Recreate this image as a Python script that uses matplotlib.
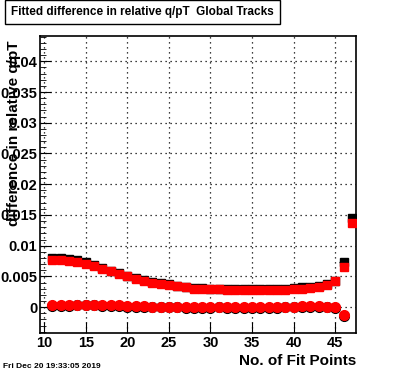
import numpy as np
import matplotlib
matplotlib.use("Agg")
import matplotlib.pyplot as plt
from matplotlib.ticker import MultipleLocator

# fit points
npts = list(range(11, 48))

# relative q/pT difference, squares (red on top of black)
sq_red = [0.0077, 0.0077, 0.0075, 0.0073, 0.0070, 0.0067, 0.0062, 0.0058, 0.0054,
          0.0050, 0.0046, 0.0043, 0.0040, 0.0038, 0.0036, 0.0034, 0.0032, 0.0030,
          0.0030, 0.0029, 0.0029, 0.0028, 0.0028, 0.0028, 0.0028, 0.0028, 0.0028,
          0.0028, 0.0028, 0.0029, 0.0030, 0.0031, 0.0033, 0.0036, 0.0042, 0.0066, 0.0137]
sq_black = [0.0080, 0.0080, 0.0078, 0.0076, 0.0073, 0.0069, 0.0063, 0.0059, 0.0055,
            0.0051, 0.0047, 0.0044, 0.0041, 0.0039, 0.0037, 0.0035, 0.0033, 0.0031,
            0.0031, 0.0030, 0.0030, 0.0029, 0.0029, 0.0029, 0.0029, 0.0029, 0.0029,
            0.0029, 0.0029, 0.0031, 0.0032, 0.0033, 0.0035, 0.0038, 0.0043, 0.0073, 0.0145]

# circles (mean), last bin empty
npts_c = list(range(11, 47))
ci_red = [0.0003, 0.0003, 0.0003, 0.0004, 0.0004, 0.0004, 0.0003, 0.0003, 0.0003,
          0.0002, 0.0002, 0.0002, 0.0001, 0.0001, 0.0001, 0.0001, 0.0000, 0.0000,
          0.0000, 0.0000, 0.0001, 0.0000, 0.0000, 0.0000, 0.0000, 0.0000, 0.0000,
          0.0000, 0.0001, 0.0001, 0.0002, 0.0002, 0.0002, 0.0001, 0.0000, -0.0012]
ci_black = [0.0002, 0.0002, 0.0002, 0.0003, 0.0003, 0.0003, 0.0002, 0.0002, 0.0002,
            0.0001, 0.0001, 0.0001, 0.0000, 0.0000, 0.0000, 0.0000, -0.0001, -0.0001,
            -0.0001, -0.0001, 0.0000, -0.0001, -0.0001, -0.0001, -0.0001, -0.0001, -0.0001,
            -0.0001, 0.0000, 0.0000, 0.0001, 0.0001, 0.0001, 0.0000, -0.0001, -0.0014]

plt.rcParams['font.family'] = ['Liberation Sans', 'DejaVu Sans']

fig = plt.figure(figsize=(3.96, 3.72), dpi=100)
ax = fig.add_axes([0.101, 0.105, 0.798, 0.798])

ax.errorbar(npts, sq_black, xerr=0.5, fmt='s', color='black', ms=6, lw=1,
            capsize=0, zorder=3)
ax.errorbar(npts_c, ci_black, xerr=0.5, fmt='o', color='black', ms=7, lw=1,
            capsize=0, zorder=3)
ax.plot(npts, sq_red, 's', color='#ff0000', ms=6, mec='#ff0000', zorder=5)
ax.plot(npts_c, ci_red, 'o', color='#ff0000', ms=7, mec='#ff0000', zorder=5)

ax.set_xlim(9.5, 47.5)
ax.xaxis.set_major_locator(MultipleLocator(5))
ax.xaxis.set_minor_locator(MultipleLocator(1))
yt = [0, 0.005, 0.01, 0.015, 0.02, 0.025, 0.03, 0.035, 0.04]
ax.set_yticks(yt)
ax.set_yticklabels(['%g' % v for v in yt])
ax.yaxis.set_minor_locator(MultipleLocator(0.001))
ax.set_ylim(-0.0042, 0.0441)
ax.tick_params(which='both', direction='in', top=False, right=False,
               labelsize=10.5, pad=2)
ax.tick_params(which='major', length=8)
ax.tick_params(which='minor', length=4)
ax.tick_params(axis='x', which='minor', length=0)
for lab in ax.get_xticklabels() + ax.get_yticklabels():
    lab.set_fontweight('bold')
ax.grid(True, which='major', color='black', linestyle=(0, (1, 3)), lw=0.9)
for s in ax.spines.values():
    s.set_linewidth(1.2)

fig.text(0.035, 0.89, 'difference in relative q/pT', rotation=90, ha='center',
         va='top', fontsize=11, fontweight='bold')
fig.text(0.899, 0.02, 'No. of Fit Points', ha='right', va='baseline',
         fontsize=11, fontweight='bold')
fig.text(0.008, 0.012, 'Fri Dec 20 19:33:05 2019', ha='left', va='baseline',
         fontsize=6, fontweight='bold')

fig.text(0.36, 0.968, 'Fitted difference in relative q/pT  Global Tracks',
         ha='center', va='center', fontsize=8.5, fontweight='bold',
         bbox=dict(boxstyle='square,pad=0.5', fc='white', ec='black', lw=1))

fig.savefig('out.png', dpi=100)
